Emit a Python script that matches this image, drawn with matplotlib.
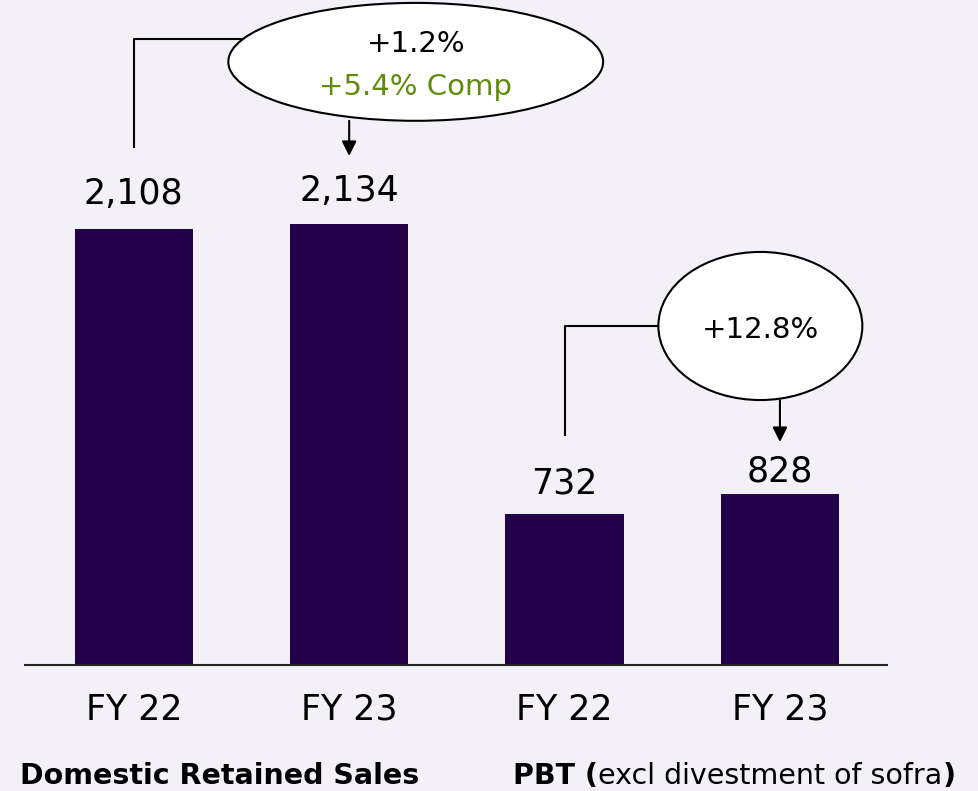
import matplotlib.pyplot as plt
from matplotlib.patches import Ellipse

# values
labels = ["FY 22", "FY 23", "FY 22", "FY 23"]
values = [2108, 2134, 732, 828]
value_text = ["2,108", "2,134", "732", "828"]
growth_sales = "+1.2%"
growth_comp = "+5.4% Comp"
growth_pbt = "+12.8%"

# label gap above bar (points)
label_gap = [18, 16, 14.5, 8.5]

bg = "#f3f1f7"
bar_col = "#23004a"
green = "#5e8c0a"

fig = plt.figure(figsize=(9.79, 7.91), dpi=100, facecolor=bg)
ax = fig.add_axes([25 / 979, (791 - 665) / 791, 862 / 979, 665 / 791])
ax.set_facecolor(bg)

x = range(len(values))
ax.bar(x, values, width=0.55, color=bar_col, zorder=2)
ax.set_xlim(-0.505, 3.497)
ax.set_ylim(0, 3215)

for s in ["top", "right", "left"]:
    ax.spines[s].set_visible(False)
ax.spines["bottom"].set_color("#222222")
ax.spines["bottom"].set_linewidth(1.5)
ax.set_yticks([])
ax.set_xticks(list(x))
ax.set_xticklabels(labels, fontsize=25)
ax.tick_params(axis="x", length=0, pad=20)

for i, v in enumerate(values):
    ax.annotate(value_text[i], (i, v), xytext=(0, label_gap[i]), textcoords="offset points",
                ha="center", va="baseline", fontsize=25)

# sales bubble
e1 = Ellipse((1.309, 2916), 1.74, 570, facecolor="white", edgecolor="black",
             lw=1.5, zorder=5, clip_on=False)
ax.add_patch(e1)
ax.plot([0, 0, 1.0], [2505, 3027, 3027], color="black", lw=1.5, zorder=4, clip_on=False)
ax.text(1.309, 3000, growth_sales, ha="center", va="center", fontsize=21, zorder=6)
ax.text(1.309, 2795, growth_comp, ha="center", va="center", fontsize=21, color=green, zorder=6)
ax.annotate("", xy=(1, 2461), xytext=(1, 2916 - 285),
            arrowprops=dict(arrowstyle="-|>", color="black", lw=1.5,
                            mutation_scale=22, shrinkA=0, shrinkB=0), zorder=4)

# PBT bubble
e2 = Ellipse((2.909, 1639), 0.947, 716, facecolor="white", edgecolor="black",
             lw=1.5, zorder=5, clip_on=False)
ax.add_patch(e2)
ax.plot([2, 2, 2.9], [1112, 1639, 1639], color="black", lw=1.5, zorder=4)
ax.text(2.909, 1620, growth_pbt, ha="center", va="center", fontsize=21, zorder=6)
ax.annotate("", xy=(3, 1078), xytext=(3, 1639 - 358),
            arrowprops=dict(arrowstyle="-|>", color="black", lw=1.5,
                            mutation_scale=22, shrinkA=0, shrinkB=0), zorder=4)

# group captions
fs = 20.5
fig.text(20 / 979, 1 - 776 / 791, "Domestic Retained Sales",
         fontweight="bold", fontsize=fs, va="center", ha="left")
t1 = fig.text(513 / 979, 1 - 776 / 791, "PBT (",
              fontweight="bold", fontsize=fs, va="center", ha="left")
t2 = ax.annotate("excl divestment of sofra", xy=(1, 0), xycoords=t1, va="bottom",
                 ha="left", fontsize=fs)
ax.annotate(")", xy=(1, 0), xycoords=t2, va="bottom", ha="left",
            fontweight="bold", fontsize=fs)

fig.savefig("out.png", dpi=100, facecolor=bg)
